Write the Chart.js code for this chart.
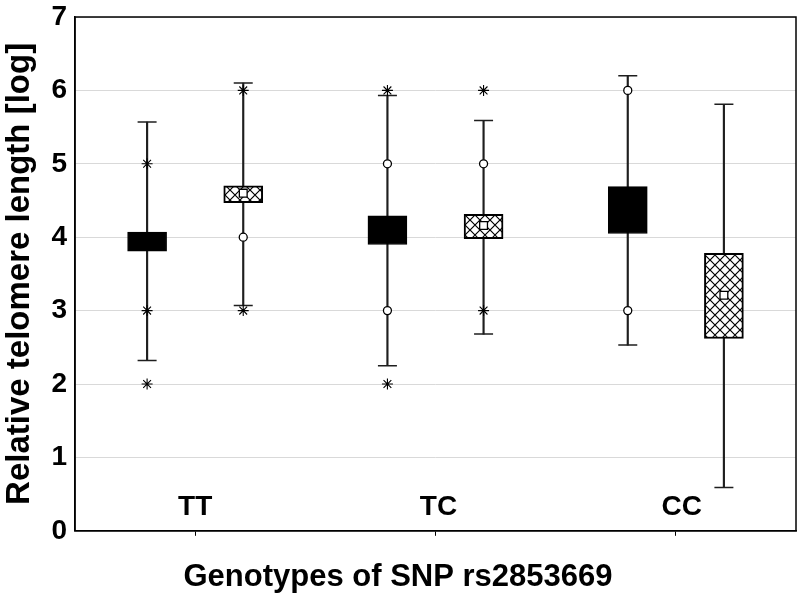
<!DOCTYPE html>
<html>
<head>
<meta charset="utf-8">
<script src="https://cdn.jsdelivr.net/npm/chart.js@4.4.1/dist/chart.umd.min.js"></script>
<style>
    html, body { margin: 0; padding: 0; background: #ffffff; }
</style>
</head>
<body>
<canvas id="telomere_chart" width="799" height="600"></canvas>
<script>

// Categories and their x positions on the linear axis
const genotypes = ["TT", "TC", "CC"];
const group_x = [1, 2, 3];

// Solid (black) boxes
const solid_min = [2.32, 2.25, 2.53];
const solid_q1 = [3.81, 3.90, 4.05];
const solid_q3 = [4.07, 4.29, 4.69];
const solid_max = [5.57, 5.93, 6.20];
const solid_circles = [[], [5, 3], [6, 3]];
const solid_stars = [[5, 3, 2], [6, 2], []];

// Hatched boxes
const hatch_min = [3.07, 2.68, 0.59];
const hatch_q1 = [4.47, 3.98, 2.62];
const hatch_q3 = [4.70, 4.31, 3.78];
const hatch_max = [6.10, 5.59, 5.81];
const hatch_mean = [4.60, 4.16, 3.21];
const hatch_circles = [[4], [5], []];
const hatch_stars = [[6, 3], [6, 3], []];

const y_ticks = [0, 1, 2, 3, 4, 5, 6, 7];

const FONT = "'Liberation Sans', Arial, sans-serif";
const SHIFT = 0.2;   // distance of each box from the group centre, in axis units

function makeCrossHatch() {
    const tile = document.createElement('canvas');
    tile.width = 10;
    tile.height = 10;
    const c = tile.getContext('2d');
    c.fillStyle = '#ffffff';
    c.fillRect(0, 0, 10, 10);
    c.strokeStyle = '#000000';
    c.lineWidth = 1.2;
    c.beginPath();
    c.moveTo(0, 0); c.lineTo(10, 10);
    c.moveTo(10, 0); c.lineTo(0, 10);
    c.stroke();
    return c.createPattern(tile, 'repeat');
}

function rangePoints(xs, lows, highs, shift) {
    return xs.map((x, i) => ({ x: x + shift, y: [lows[i], highs[i]] }));
}

function capPoints(xs, lows, highs, shift) {
    const pts = [];
    xs.forEach((x, i) => {
        pts.push({ x: x + shift, y: lows[i] });
        pts.push({ x: x + shift, y: highs[i] });
    });
    return pts;
}

function outlierPoints(xs, lists, shift) {
    const pts = [];
    xs.forEach((x, i) => lists[i].forEach(v => pts.push({ x: x + shift, y: v })));
    return pts;
}

// chart frame on all four sides
const frame_plugin = {
    id: 'frame',
    afterDatasetsDraw(chart) {
        const { ctx, chartArea: a } = chart;
        ctx.save();
        ctx.strokeStyle = '#000000';
        ctx.lineWidth = 1.5;
        ctx.strokeRect(a.left, a.top, a.right - a.left, a.bottom - a.top);
        ctx.restore();
    }
};

// genotype names written inside the plot, above each tick
const group_label_plugin = {
    id: 'groupLabels',
    afterDatasetsDraw(chart) {
        const { ctx, chartArea: a, scales } = chart;
        ctx.save();
        ctx.font = `bold 28px ${FONT}`;
        ctx.fillStyle = '#000000';
        ctx.textAlign = 'center';
        ctx.textBaseline = 'alphabetic';
        genotypes.forEach((name, i) => {
            ctx.fillText(name, scales.x.getPixelForValue(group_x[i]) + 3 * i, a.bottom - 16);
        });
        ctx.restore();
    }
};

const hatch = makeCrossHatch();

const datasets = [
    // whiskers
    { type: 'bar', data: rangePoints(group_x, solid_min, solid_max, -SHIFT), backgroundColor: '#1e1e1e',
      barThickness: 1.5, grouped: false, borderWidth: 0, order: 6 },
    { type: 'bar', data: rangePoints(group_x, hatch_min, hatch_max, SHIFT), backgroundColor: '#1e1e1e',
      barThickness: 1.5, grouped: false, borderWidth: 0, order: 6 },
    // whisker caps
    { type: 'scatter', data: capPoints(group_x, solid_min, solid_max, -SHIFT), pointStyle: 'line',
      pointRadius: 9.5, pointHoverRadius: 0, borderColor: '#1e1e1e', borderWidth: 1.5, order: 5 },
    { type: 'scatter', data: capPoints(group_x, hatch_min, hatch_max, SHIFT), pointStyle: 'line',
      pointRadius: 9.5, pointHoverRadius: 0, borderColor: '#1e1e1e', borderWidth: 1.5, order: 5 },
    // boxes
    { type: 'bar', data: rangePoints(group_x, solid_q1, solid_q3, -SHIFT), backgroundColor: '#000000',
      borderColor: '#000000', borderWidth: 1, borderSkipped: false, barThickness: 39, grouped: false, order: 4 },
    { type: 'bar', data: rangePoints(group_x, hatch_q1, hatch_q3, SHIFT), backgroundColor: hatch,
      borderColor: '#000000', borderWidth: 2, borderSkipped: false, barThickness: 39, grouped: false, order: 4 },
    // mean marker
    { type: 'scatter', data: hatch_mean.map((v, i) => ({ x: group_x[i] + SHIFT, y: v })), pointStyle: 'rect',
      pointRadius: 5.5, pointHoverRadius: 0, backgroundColor: '#ffffff', borderColor: '#000000', borderWidth: 1.3, order: 1 },
    // outliers and extremes
    { type: 'scatter', data: outlierPoints(group_x, solid_circles, -SHIFT), pointStyle: 'circle',
      pointRadius: 4, pointHoverRadius: 0, backgroundColor: '#ffffff', borderColor: '#000000', borderWidth: 1.3, order: 1 },
    { type: 'scatter', data: outlierPoints(group_x, hatch_circles, SHIFT), pointStyle: 'circle',
      pointRadius: 4, pointHoverRadius: 0, backgroundColor: '#ffffff', borderColor: '#000000', borderWidth: 1.3, order: 1 },
    { type: 'scatter', data: outlierPoints(group_x, solid_stars, -SHIFT), pointStyle: 'star',
      pointRadius: 5.5, pointHoverRadius: 0, borderColor: '#000000', borderWidth: 1.1, order: 1 },
    { type: 'scatter', data: outlierPoints(group_x, hatch_stars, SHIFT), pointStyle: 'star',
      pointRadius: 5.5, pointHoverRadius: 0, borderColor: '#000000', borderWidth: 1.1, order: 1 }
];

new Chart('telomere_chart', {
    type: 'bar',
    data: { datasets: datasets },
    plugins: [frame_plugin, group_label_plugin],
    options: {
        responsive: false,
        animation: false,
        events: [],
        layout: { autoPadding: false, padding: { top: 17, right: 3, left: 0, bottom: 0 } },
        plugins: {
            legend: { display: false },
            tooltip: { enabled: false },
            title: {
                display: true,
                text: 'Genotypes of SNP rs2853669',
                position: 'bottom',
                color: '#000000',
                font: { family: FONT, size: 31, weight: 'bold' },
                padding: { top: 5, bottom: 4 }
            }
        },
        scales: {
            x: {
                type: 'linear',
                min: 0.5,
                max: 3.5,
                offset: false,
                afterBuildTicks: (scale) => { scale.ticks = group_x.map(v => ({ value: v })); },
                afterFit: (scale) => {
                    scale.height = 23;
                    scale.paddingLeft = 0;
                    scale.paddingRight = 0;
                },
                ticks: { display: false },
                grid: { offset: false, drawOnChartArea: false, drawTicks: true, tickLength: 5, color: '#000000', lineWidth: 1 },
                border: { display: true, color: '#000000', width: 1.5 }
            },
            y: {
                type: 'linear',
                min: y_ticks[0],
                max: y_ticks[y_ticks.length - 1],
                afterBuildTicks: (scale) => { scale.ticks = y_ticks.map(v => ({ value: v })); },
                afterFit: (scale) => {
                    scale.width = 75;
                    scale.paddingTop = 0;
                    scale.paddingBottom = 0;
                },
                ticks: { color: '#000000', padding: 8, font: { family: FONT, size: 28, weight: 'bold' } },
                grid: { color: '#d9d9d9', lineWidth: 1, drawTicks: false },
                border: { display: true, color: '#000000', width: 1.5 },
                title: {
                    display: true,
                    text: 'Relative telomere length [log]',
                    color: '#000000',
                    font: { family: FONT, size: 33, weight: 'bold' },
                    padding: { top: 0, bottom: 0 }
                }
            }
        }
    }
});

</script>
</body>
</html>
